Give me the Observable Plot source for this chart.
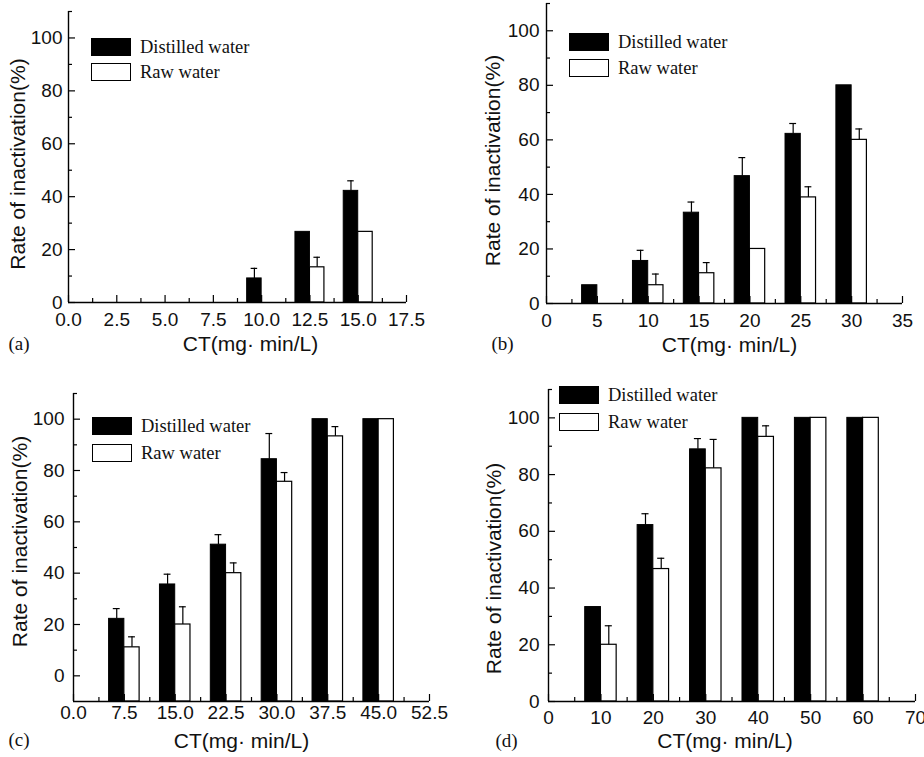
<!DOCTYPE html>
<html><head><meta charset="utf-8">
<script src="https://cdn.jsdelivr.net/npm/d3@7"></script>
<script src="https://cdn.jsdelivr.net/npm/@observablehq/plot@0.6"></script>
<style>
body{margin:0;background:#fff;}
#root{position:relative;width:924px;height:757px;overflow:hidden;background:#fff;}
.panel{position:absolute;}
.panel svg{overflow:visible;}
.leg{position:absolute;font-family:"Liberation Serif","Times New Roman",serif;font-size:18.5px;color:#111;white-space:nowrap;line-height:18px;}
.sw{position:absolute;box-sizing:border-box;border:1.5px solid #000;}
</style></head><body><div id="root"></div>
<script>
// ---- shared text ----
const seriesNames = ["Distilled water", "Raw water"];
const xTitle = "CT(mg· min/L)";
const yTitle = "Rate of inactivation(%)";
const yMajor = [0, 20, 40, 60, 80, 100];
const yMinor = [10, 30, 50, 70, 90, 110];

// ---- panel (a) ----
const ctA = [10, 12.5, 15];
const distA = [9.1, 26.7, 42.2];
const distErrA = [3.8, 0, 3.8];
const rawA = [0, 13.3, 26.7];
const rawErrA = [0, 3.8, 0];
const xMajorA = [0, 2.5, 5, 7.5, 10, 12.5, 15, 17.5];
const xMinorA = [1.25, 3.75, 6.25, 8.75, 11.25, 13.75, 16.25];

// ---- panel (b) ----
const ctB = [5, 10, 15, 20, 25, 30];
const distB = [6.7, 15.6, 33.3, 46.7, 62.2, 80];
const distErrB = [0, 3.9, 3.9, 6.8, 3.8, 0];
const rawB = [0, 6.7, 11.1, 20, 38.9, 60];
const rawErrB = [0, 4.1, 3.9, 0, 3.9, 4];
const xMajorB = [0, 5, 10, 15, 20, 25, 30, 35];
const xMinorB = [2.5, 7.5, 12.5, 17.5, 22.5, 27.5, 32.5];

// ---- panel (c) ----
const ctC = [7.5, 15, 22.5, 30, 37.5, 45];
const distC = [22.2, 35.6, 51.1, 84.4, 100, 100];
const distErrC = [4, 4, 3.9, 10, 0, 0];
const rawC = [11.1, 20, 40, 75.6, 93.3, 100];
const rawErrC = [4.1, 6.9, 4, 3.6, 3.8, 0];
const xMajorC = [0, 7.5, 15, 22.5, 30, 37.5, 45, 52.5];
const xMinorC = [3.75, 11.25, 18.75, 26.25, 33.75, 41.25, 48.75];

// ---- panel (d) ----
const ctD = [10, 20, 30, 40, 50, 60];
const distD = [33.3, 62.2, 88.9, 100, 100, 100];
const distErrD = [0, 4, 3.8, 0, 0, 0];
const rawD = [20, 46.7, 82.2, 93.3, 100, 100];
const rawErrD = [6.7, 3.8, 10.2, 3.9, 0, 0];
const xMajorD = [0, 10, 20, 30, 40, 50, 60, 70];
const xMinorD = [5, 15, 25, 35, 45, 55, 65];

const panels = [
  {tag: "(a)", ct: ctA, dist: distA, distErr: distErrA, raw: rawA, rawErr: rawErrA, xMajor: xMajorA, xMinor: xMinorA,
   xDomain: [0, 17.5], yDomain: [0, 110], barW: 0.75, dec: 1,
   left: 0, top: 0, width: 462, height: 378, mL: 68, mR: 56, mT: 11, mB: 76,
   xGap: 10, yGap: 6, xt: [13, 42], yt: [-50, 7], tg: [-60, 41], leg: [91, 38, 63]},
  {tag: "(b)", ct: ctB, dist: distB, distErr: distErrB, raw: rawB, rawErr: rawErrB, xMajor: xMajorB, xMinor: xMinorB,
   xDomain: [0, 35], yDomain: [0, 110], barW: 1.5, dec: 0,
   left: 462, top: 0, width: 462, height: 378, mL: 84, mR: 22, mT: 3, mB: 75,
   xGap: 10, yGap: 7, xt: [5, 42], yt: [-53, 7], tg: [-55, 40], leg: [569, 33, 59]},
  {tag: "(c)", ct: ctC, dist: distC, distErr: distErrC, raw: rawC, rawErr: rawErrC, xMajor: xMajorC, xMinor: xMinorC,
   xDomain: [0, 52.5], yDomain: [-10, 110], barW: 2.25, dec: 1,
   left: 0, top: 378, width: 462, height: 379, mL: 73, mR: 33, mT: 15, mB: 56,
   xGap: 4, yGap: 9, xt: [-10, 40], yt: [-53, -6], tg: [-65, 38], leg: [92, 417, 444]},
  {tag: "(d)", ct: ctD, dist: distD, distErr: distErrD, raw: rawD, rawErr: rawErrD, xMajor: xMajorD, xMinor: xMinorD,
   xDomain: [0, 70], yDomain: [0, 110], barW: 3, dec: 0,
   left: 462, top: 378, width: 462, height: 379, mL: 86, mR: 9, mT: 11, mB: 56,
   xGap: 9, yGap: 9, xt: [-7, 40], yt: [-54, 23], tg: [-53, 39], leg: [559, 386, 413]}
];

const root = document.getElementById("root");
const sans = "'Liberation Sans', Arial, Helvetica, sans-serif";
const serif = "'Liberation Serif', 'Times New Roman', serif";

for (const p of panels) {
  const data = p.ct.map((c, i) => ({ct: c, dist: p.dist[i], distErr: p.distErr[i], raw: p.raw[i], rawErr: p.rawErr[i]}));
  const w = p.barW, y0 = p.yDomain[0], x0 = p.xDomain[0], cap = w * 0.45;
  const fmt = d => d.toFixed(p.dec);
  const dE = data.filter(d => d.distErr > 0), rE = data.filter(d => d.rawErr > 0);
  const chart = Plot.plot({
    width: p.width, height: p.height,
    marginLeft: p.mL, marginRight: p.mR, marginTop: p.mT, marginBottom: p.mB,
    x: {domain: p.xDomain, axis: null},
    y: {domain: p.yDomain, axis: null},
    style: {fontFamily: sans, background: "transparent", color: "#111"},
    marks: [
      Plot.rect(data.filter(d => d.dist > 0), {x1: d => d.ct - w, x2: d => d.ct, y1: d => y0, y2: "dist", fill: "black", stroke: "black", strokeWidth: 1}),
      Plot.rect(data.filter(d => d.raw > 0), {x1: d => d.ct, x2: d => d.ct + w, y1: d => y0, y2: "raw", fill: "white", stroke: "black", strokeWidth: 1.2}),
      Plot.ruleX(dE, {x: d => d.ct - w / 2, y1: "dist", y2: d => d.dist + d.distErr, stroke: "black", strokeWidth: 1.2}),
      Plot.ruleY(dE, {y: d => d.dist + d.distErr, x1: d => d.ct - w / 2 - cap / 2, x2: d => d.ct - w / 2 + cap / 2, stroke: "black", strokeWidth: 1.2}),
      Plot.ruleX(rE, {x: d => d.ct + w / 2, y1: "raw", y2: d => d.raw + d.rawErr, stroke: "black", strokeWidth: 1.2}),
      Plot.ruleY(rE, {y: d => d.raw + d.rawErr, x1: d => d.ct + w / 2 - cap / 2, x2: d => d.ct + w / 2 + cap / 2, stroke: "black", strokeWidth: 1.2}),
      Plot.ruleX([x0], {stroke: "black", strokeWidth: 1.4}),
      Plot.ruleY([y0], {stroke: "black", strokeWidth: 1.4}),
      // inward tick marks
      Plot.axisX({ticks: p.xMajor, tickSize: -7, tickFormat: () => "", stroke: "black", strokeWidth: 1.2}),
      Plot.axisX({ticks: p.xMinor, tickSize: -4, tickFormat: () => "", stroke: "black", strokeWidth: 1.2}),
      Plot.axisY({ticks: yMajor, tickSize: -7, tickFormat: () => "", stroke: "black", strokeWidth: 1.2}),
      Plot.axisY({ticks: yMinor, tickSize: -4, tickFormat: () => "", stroke: "black", strokeWidth: 1.2}),
      // tick labels
      Plot.text(p.xMajor, {x: d => d, text: fmt, frameAnchor: "bottom", lineAnchor: "top", dy: p.xGap, fontSize: 19, fill: "#111"}),
      Plot.text(yMajor, {y: d => d, text: d => String(d), frameAnchor: "left", textAnchor: "end", lineAnchor: "middle", dx: -p.yGap, fontSize: 19, fill: "#111"}),
      // titles
      Plot.text([xTitle], {frameAnchor: "bottom", dx: p.xt[0], dy: p.xt[1], fontSize: 21, fill: "#111", lineAnchor: "middle"}),
      Plot.text([yTitle], {frameAnchor: "left", rotate: -90, textAnchor: "middle", dx: p.yt[0], dy: p.yt[1], fontSize: 21, fill: "#111", lineAnchor: "middle"}),
      Plot.text([p.tag], {frameAnchor: "bottom-left", textAnchor: "start", dx: p.tg[0], dy: p.tg[1], fontSize: 19, fontFamily: serif, fill: "#111", lineAnchor: "middle"})
    ]
  });
  const div = document.createElement("div");
  div.className = "panel";
  div.style.left = p.left + "px";
  div.style.top = p.top + "px";
  div.appendChild(chart);
  root.appendChild(div);

  // legend (HTML)
  const [lx, ly1, ly2] = p.leg;
  [[ly1, "#000"], [ly2, "#fff"]].forEach(([yy, fill], k) => {
    const sw = document.createElement("div");
    sw.className = "sw";
    sw.style.left = lx + "px"; sw.style.top = yy + "px";
    sw.style.width = "40px"; sw.style.height = "18px";
    sw.style.background = fill;
    root.appendChild(sw);
    const t = document.createElement("div");
    t.className = "leg";
    t.style.left = (lx + 49) + "px"; t.style.top = yy + "px";
    t.textContent = seriesNames[k];
    root.appendChild(t);
  });
}
</script></body></html>
